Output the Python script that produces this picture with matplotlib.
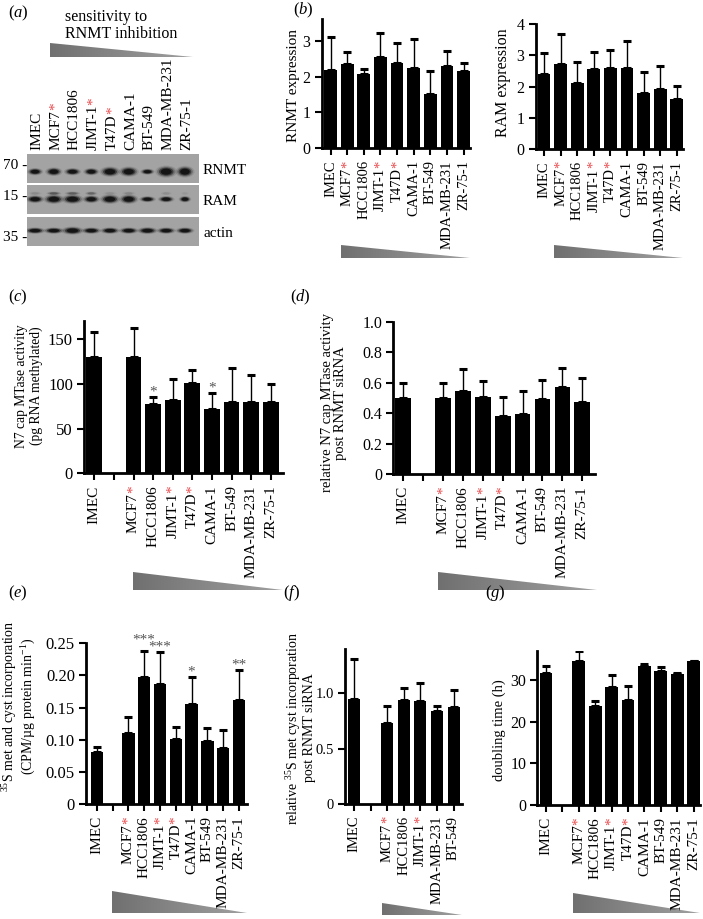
import numpy as np
import matplotlib
matplotlib.use('Agg')
import matplotlib.pyplot as plt
from matplotlib.patches import Ellipse, Polygon
from matplotlib.colors import LinearSegmentedColormap
from matplotlib.transforms import offset_copy

plt.rcParams['font.family'] = ['Liberation Serif', 'DejaVu Serif']
plt.rcParams['mathtext.fontset'] = 'custom'
plt.rcParams['mathtext.rm'] = 'Liberation Serif'
plt.rcParams['mathtext.it'] = 'Liberation Serif:italic'
plt.rcParams['font.size'] = 11

W, H = 703, 919
RED = '#e8484a'
nan = np.nan

# cell lines (lanes / bars)
lines_all = ['IMEC', 'MCF7', 'HCC1806', 'JIMT-1', 'T47D', 'CAMA-1', 'BT-549',
             'MDA-MB-231', 'ZR-75-1']
lines_gap = ['IMEC', '', 'MCF7', 'HCC1806', 'JIMT-1', 'T47D', 'CAMA-1', 'BT-549',
             'MDA-MB-231', 'ZR-75-1']
lines_f = ['IMEC', '', 'MCF7', 'HCC1806', 'JIMT-1', 'MDA-MB-231', 'BT-549']
starred = ['MCF7', 'JIMT-1', 'T47D']

# (a) western blot band sizes (lane units / strip fraction)
rnmt_band_w = [0.58, 0.62, 0.62, 0.58, 0.74, 0.72, 0.52, 0.78, 0.68]
rnmt_band_h = [0.17, 0.20, 0.17, 0.17, 0.24, 0.24, 0.14, 0.28, 0.27]
ram_band_w = [0.68, 0.76, 0.80, 0.64, 0.74, 0.70, 0.60, 0.60, 0.45]
ram_band_h = [0.18, 0.22, 0.22, 0.18, 0.22, 0.22, 0.14, 0.15, 0.15]
ram_upper = [0.12, 0.45, 0.40, 0.35, 0.10, 0.15, 0.0, 0.10, 0.05]
actin_band_w = [0.75, 0.75, 0.82, 0.72, 0.72, 0.72, 0.75, 0.70, 0.68]
actin_band_h = [0.15, 0.15, 0.19, 0.15, 0.15, 0.15, 0.16, 0.15, 0.15]

# (b) expression
rnmt_expr = [2.18, 2.35, 2.06, 2.55, 2.37, 2.25, 1.51, 2.28, 2.16]
rnmt_expr_top = [3.09, 2.67, 2.21, 3.20, 2.94, 3.04, 2.15, 2.71, 2.37]
ram_expr = [2.41, 2.73, 2.13, 2.58, 2.61, 2.61, 1.80, 1.91, 1.60]
ram_expr_top = [3.09, 3.68, 2.80, 3.10, 3.16, 3.48, 2.47, 2.66, 2.03]

# (c) N7 cap MTase activity
mtase = [130.6, nan, 130.6, 77.6, 82.1, 100.7, 72.0, 80.2, 80.2, 79.5]
mtase_top = [157.5, nan, 162.0, 85.8, 105.2, 115.7, 90.3, 117.5, 110.4, 100.0]
mtase_sig = ['', '', '', '*', '', '', '*', '', '', '']

# (d) relative activity post siRNA
mtase_kd = [0.497, nan, 0.497, 0.547, 0.503, 0.383, 0.392, 0.492, 0.573, 0.473]
mtase_kd_top = [0.600, nan, 0.600, 0.690, 0.610, 0.508, 0.545, 0.617, 0.698, 0.632]

# (e) 35S incorporation
met = [0.0804, nan, 0.110, 0.198, 0.186, 0.101, 0.1556, 0.098, 0.087, 0.162]
met_top = [0.0892, nan, 0.135, 0.2386, 0.2365, 0.120, 0.198, 0.119, 0.1157, 0.2085]
met_sig = ['', '', '', '***', '***', '', '*', '', '', '**']

# (f) relative incorporation post siRNA
met_kd = [0.952, nan, 0.732, 0.937, 0.928, 0.840, 0.880]
met_kd_top = [1.307, nan, 0.889, 1.045, 1.093, 0.886, 1.027]

# (g) doubling time
doubling = [31.8, nan, 34.5, 23.8, 28.3, 25.2, 33.5, 32.2, 31.5, 34.6]
doubling_top = [33.3, nan, 37.0, 24.9, 31.3, 28.5, 33.8, 33.2, 31.6, 34.6]

fig = plt.figure(figsize=(W / 100, H / 100), dpi=100)


def px_axes(left, top, right, bottom, **kw):
    return fig.add_axes([left / W, 1 - bottom / H, (right - left) / W, (bottom - top) / H], **kw)


def ptext(x, y, s, **kw):
    return fig.text(x / W, 1 - y / H, s, **kw)


def cat_labels(ax, cats, fs=11, pad=12):
    trans = offset_copy(ax.get_xaxis_transform(), fig=fig, x=0, y=-pad, units='dots')
    for i, name in enumerate(cats):
        if not name:
            continue
        if name in starred:
            st = ax.text(i, 0, '*', transform=trans, rotation=90, ha='center', va='top',
                         color=RED, fontsize=fs)
            ax.annotate(name, xy=(0.5, 0), xycoords=st, rotation=90, ha='center',
                        va='top', fontsize=fs)
        else:
            ax.text(i, 0, name, transform=trans, rotation=90, ha='center', va='top',
                    fontsize=fs)


def bar_panel(ax, cats, vals, tops, xlim, ylim, yticks, yticklabels, width=0.78,
              fs=11, yfs=None, sig=None, sig_raise=None):
    x = np.arange(len(cats))
    vals = np.array(vals, dtype=float)
    tops = np.array(tops, dtype=float)
    ax.bar(x, vals, width=width, color='black', zorder=2)
    err = tops - vals
    ax.errorbar(x, vals, yerr=[np.zeros_like(err), err], fmt='none', ecolor='black',
                elinewidth=1, capsize=3.2, capthick=2.2, zorder=1)
    ax.set_xlim(*xlim)
    ax.set_ylim(*ylim)
    ax.set_xticks(x)
    ax.tick_params(axis='x', labelbottom=False, direction='out', length=5, width=1.5)
    ax.set_yticks(yticks)
    ax.set_yticklabels(yticklabels)
    ax.tick_params(axis='y', direction='out', length=5, width=1.5,
                   labelsize=yfs or fs, pad=3)
    for s in ['top', 'right']:
        ax.spines[s].set_visible(False)
    for s in ['left', 'bottom']:
        ax.spines[s].set_linewidth(2)
    ax.patch.set_alpha(0)
    cat_labels(ax, cats, fs=fs)
    if sig:
        for i, s in enumerate(sig):
            if s:
                extra = sig_raise.get(i, 0) if sig_raise else 0
                tr = offset_copy(ax.transData, fig=fig, x=0, y=-2 + extra, units='dots')
                ax.text(i, tops[i], s, transform=tr, ha='center', va='bottom',
                        color='#555555', fontsize=fs)


# overlay for wedges
over = fig.add_axes([0, 0, 1, 1], zorder=-1)
over.axis('off')
wedge_cmap = LinearSegmentedColormap.from_list('wedge', ['#707070', '#a0a0a0'])


def wedge(x0, x1, y0, y1):
    grad = np.linspace(0, 1, 256).reshape(1, -1)
    im = over.imshow(grad, extent=(x0, x1, y1, y0), cmap=wedge_cmap, vmin=0, vmax=1,
                     aspect='auto', interpolation='bilinear')
    poly = Polygon([(x0, y0), (x0, y1), (x1, y1)], closed=True, facecolor='none',
                   edgecolor='none', transform=over.transData)
    over.add_patch(poly)
    im.set_clip_path(poly)


wedge(50, 193, 43, 57)
wedge(341, 470, 245, 258)
wedge(554, 683, 245, 258)
wedge(133, 283, 572, 590)
wedge(438, 597, 572, 590)
wedge(112, 247, 891, 913)
wedge(382, 462, 903, 915)
wedge(573, 700, 893, 913)
over.set_xlim(0, W)
over.set_ylim(H, 0)

# ---------------- (a) blot ----------------
ptext(8, 13, r'($\it{a}$)', fontsize=12, va='center', ha='left')
ptext(65, 25.5, 'sensitivity to\nRNMT inhibition', fontsize=11.5, va='center', ha='left',
      linespacing=1.15)

strips = [(154, 183, rnmt_band_w, rnmt_band_h, 0.61, 'RNMT', '70', 165.7),
          (185, 214, ram_band_w, ram_band_h, 0.49, 'RAM', '15', 196.7),
          (217, 246, actin_band_w, actin_band_h, 0.47, 'actin', '35', 237.3)]
blot_axes = []
for top, bot, bw, bh, yc, name, marker, my in strips:
    bx = px_axes(27, top, 199, bot)
    bx.set_facecolor('#a3a3a3')
    bx.set_xlim(-0.43, 8.75)
    bx.set_ylim(1, 0)
    bx.set_xticks([])
    bx.set_yticks([])
    for s in bx.spines.values():
        s.set_visible(False)
    for i in range(len(lines_all)):
        for scale, a in [(1.5, 0.12), (1.25, 0.25), (1.0, 0.55), (0.75, 1.0)]:
            bx.add_patch(Ellipse((i, yc), bw[i] * scale, bh[i] * scale,
                                 facecolor='#141414', edgecolor='none', alpha=a))
        if name == 'RAM' and ram_upper[i] > 0:
            for scale, a in [(1.3, 0.3), (1.0, 0.6), (0.7, 1.0)]:
                bx.add_patch(Ellipse((i, yc - 0.2), bw[i] * 0.8 * scale, 0.1 * scale,
                                     facecolor='#303030', edgecolor='none',
                                     alpha=a * ram_upper[i]))
    ptext(203, (top + bot) / 2 + 2, name, fontsize=11, va='center', ha='left')
    ptext(27, my, marker + ' -', fontsize=11, va='center', ha='right')
    blot_axes.append(bx)

lane_tr = offset_copy(blot_axes[0].get_xaxis_transform(), fig=fig, x=2, y=4, units='dots')
for i, name in enumerate(lines_all):
    t = blot_axes[0].text(i, 1, name, transform=lane_tr, rotation=90, ha='center',
                          va='bottom', fontsize=11)
    if name in starred:
        blot_axes[0].annotate('*', xy=(0.5, 1), xycoords=t, rotation=90, ha='center',
                              va='bottom', color=RED, fontsize=11)

# ---------------- (b) ----------------
ptext(293, 10, r'($\it{b}$)', fontsize=12, va='center', ha='left')
axb1 = px_axes(321.7, 19.1, 470, 148.3)
bar_panel(axb1, lines_all, rnmt_expr, rnmt_expr_top, (-0.54, 8.39), (0, 3.6),
          [0, 1, 2, 3], ['0', '1', '2', '3'], width=0.77, fs=10.5, yfs=11.5)
ptext(293, 85, 'RNMT expression', rotation=90, ha='center', va='center', fontsize=11)

axb2 = px_axes(535.7, 24.3, 683, 149)
bar_panel(axb2, lines_all, ram_expr, ram_expr_top, (-0.5, 8.37), (0, 4),
          [0, 1, 2, 3, 4], ['0', '1', '2', '3', '4'], width=0.77, fs=10.5, yfs=11.5)
ptext(503, 83, 'RAM expression', rotation=90, ha='center', va='center', fontsize=11.5)

# ---------------- (c) ----------------
ptext(8, 297, r'($\it{c}$)', fontsize=12, va='center', ha='left')
axc = px_axes(84, 321.3, 283.3, 473.3)
bar_panel(axc, lines_gap, mtase, mtase_top, (-0.525, 9.64), (0, 170),
          [0, 50, 100, 150], ['0', '50', '100', '150'], width=0.8, fs=11, yfs=12,
          sig=mtase_sig)
ptext(29, 386, 'N7 cap MTase activity\n(pg RNA methylated)', rotation=90, ha='center',
      va='center', fontsize=9.8, linespacing=1.1)

# ---------------- (d) ----------------
ptext(290, 297, r'($\it{d}$)', fontsize=12, va='center', ha='left')
axd = px_axes(393.3, 321.7, 595, 474)
bar_panel(axd, lines_gap, mtase_kd, mtase_kd_top, (-0.5, 9.64), (0, 1.0),
          [0, 0.2, 0.4, 0.6, 0.8, 1.0], ['0', '0.2', '0.4', '0.6', '0.8', '1.0'],
          width=0.79, fs=11, yfs=11.5)
ptext(334, 403, 'relative N7 cap MTase activity\npost RNMT siRNA', rotation=90,
      ha='center', va='center', fontsize=10.5, linespacing=1.0)

# ---------------- (e) ----------------
ptext(8, 593, r'($\it{e}$)', fontsize=12, va='center', ha='left')
axe = px_axes(86, 643.3, 246.7, 804)
bar_panel(axe, lines_gap, met, met_top, (-0.68, 9.49), (0, 0.25),
          [0, 0.05, 0.10, 0.15, 0.20, 0.25], ['0', '0.05', '0.10', '0.15', '0.20', '0.25'],
          width=0.78, fs=11, yfs=12, sig=met_sig, sig_raise={3: 6})
ptext(19, 706, '$^{35}$S met and cyst incorporation\n(CPM/\u00b5g protein min$^{-1}$)',
      rotation=90, ha='center', va='center', fontsize=10, linespacing=1.0)

# ---------------- (f) ----------------
ptext(283, 593, r'($\it{f}$)', fontsize=12, va='center', ha='left')
axf = px_axes(345, 649, 461.7, 804)
bar_panel(axf, lines_f, met_kd, met_kd_top, (-0.54, 6.49), (0, 1.4),
          [0, 0.5, 1.0], ['0', '0.5', '1.0'], width=0.72, fs=10.5, yfs=10.5)
ptext(300, 728, 'relative $^{35}$S met cyst incorporation\npost RNMT siRNA', rotation=90,
      ha='center', va='center', fontsize=10, linespacing=1.0)

# ---------------- (g) ----------------
ptext(485, 593, r'($\it{g}$)', fontsize=12, va='center', ha='left')
axg = px_axes(537.3, 651, 700, 805)
bar_panel(axg, lines_gap, doubling, doubling_top, (-0.53, 9.39), (0, 37),
          [0, 10, 20, 30], ['0', '10', '20', '30'], width=0.77, fs=11, yfs=11.5)
ptext(499, 730, 'doubling time (h)', rotation=90, ha='center', va='center', fontsize=10.5)

fig.savefig('out.png', dpi=100)
